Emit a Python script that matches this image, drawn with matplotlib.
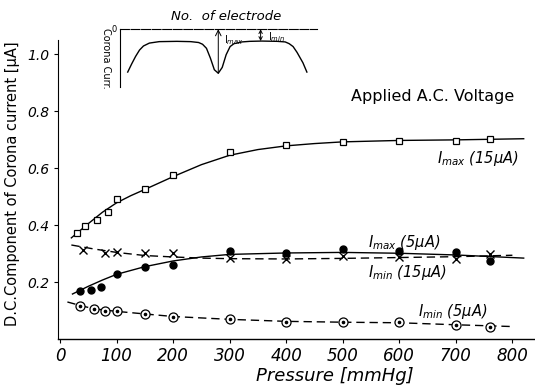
import numpy as np
import matplotlib
matplotlib.use("Agg")
import matplotlib.pyplot as plt

# measured points (pressure in mmHg, current in uA)
imax15_p = [30, 45, 65, 85, 100, 150, 200, 300, 400, 500, 600, 700, 760]
imax15 = [0.372, 0.396, 0.418, 0.446, 0.491, 0.526, 0.575, 0.656, 0.681, 0.691, 0.695, 0.695, 0.702]

imax5_p = [35, 55, 73, 100, 150, 200, 300, 400, 500, 600, 700, 760]
imax5 = [0.168, 0.172, 0.183, 0.228, 0.253, 0.260, 0.309, 0.302, 0.316, 0.309, 0.305, 0.274]

imin15_p = [40, 80, 100, 150, 200, 300, 400, 500, 600, 700, 760]
imin15 = [0.312, 0.302, 0.305, 0.302, 0.302, 0.284, 0.281, 0.291, 0.288, 0.281, 0.298]

imin5_p = [35, 60, 80, 100, 150, 200, 300, 400, 500, 600, 700, 760]
imin5 = [0.116, 0.105, 0.098, 0.098, 0.088, 0.077, 0.070, 0.060, 0.060, 0.060, 0.049, 0.042]

# hand drawn curves through the points
imax15_cx = [20, 50, 75, 100, 125, 150, 200, 250, 300, 350, 400, 450, 500, 600, 700, 820]
imax15_cy = [0.355, 0.405, 0.445, 0.478, 0.503, 0.525, 0.570, 0.612, 0.645, 0.665, 0.678, 0.686, 0.692, 0.697, 0.699, 0.703]

imax5_cx = [22, 50, 75, 100, 150, 200, 250, 300, 400, 500, 600, 700, 820]
imax5_cy = [0.158, 0.185, 0.207, 0.227, 0.254, 0.274, 0.288, 0.297, 0.302, 0.304, 0.301, 0.295, 0.284]

imin15_cx = [20, 60, 100, 150, 200, 250, 300, 400, 500, 600, 700, 800]
imin15_cy = [0.33, 0.316, 0.304, 0.293, 0.288, 0.284, 0.282, 0.281, 0.283, 0.286, 0.289, 0.294]

imin5_cx = [13, 35, 60, 100, 150, 200, 300, 400, 500, 600, 700, 796]
imin5_cy = [0.13, 0.118, 0.106, 0.097, 0.088, 0.079, 0.069, 0.062, 0.059, 0.057, 0.050, 0.044]

# sketch of corona current along the electrodes (inset)
inset_pos = [4, 6, 8, 10, 12, 15, 20, 29, 36, 40, 42, 44, 46, 48, 50, 52, 54, 56, 58, 62, 66, 72, 80,
             84, 86, 88, 90, 93, 95]
inset_cur = [-0.74, -0.60, -0.47, -0.36, -0.29, -0.24, -0.215, -0.21, -0.215, -0.23, -0.26, -0.33, -0.50,
             -0.70, -0.76, -0.66, -0.44, -0.30, -0.25, -0.22, -0.21, -0.205, -0.21, -0.22, -0.25,
             -0.30, -0.40, -0.58, -0.74]

xticks = [0, 100, 200, 300, 400, 500, 600, 700, 800]
yticks = [0.2, 0.4, 0.6, 0.8, 1.0]

fig = plt.figure(figsize=(5.35, 3.89), dpi=100)
ax = fig.add_axes([0.108, 0.1285, 0.892, 0.769])

dash = (0, (6, 3.5))
ax.plot(imax15_cx, imax15_cy, color="black", lw=1.0)
ax.plot(imax5_cx, imax5_cy, color="black", lw=1.0)
ax.plot(imin15_cx, imin15_cy, color="black", lw=1.0, linestyle=dash)
ax.plot(imin5_cx, imin5_cy, color="black", lw=1.0, linestyle=dash)

ax.plot(imax15_p, imax15, "s", ms=4.8, mfc="white", mec="black", mew=0.9)
ax.plot(imax5_p, imax5, "o", ms=5, color="black")
ax.plot(imin15_p, imin15, "x", ms=6, color="black", mew=1.0)
ax.plot(imin5_p, imin5, "o", ms=6.5, mfc="white", mec="black", mew=0.9)
ax.plot(imin5_p, imin5, "o", ms=1.6, color="black")

ax.set_xlim(-4, 840)
ax.set_ylim(0, 1.05)
ax.spines["top"].set_visible(False)
ax.spines["right"].set_visible(False)
ax.spines["left"].set_linewidth(0.8)
ax.spines["bottom"].set_linewidth(1.0)
ax.set_xticks(xticks)
ax.set_xticklabels([str(v) for v in xticks], fontstyle="italic", fontsize=12)
ax.set_yticks(yticks)
ax.set_yticklabels(["%.1f" % v for v in yticks], fontstyle="italic", fontsize=10)
ax.tick_params(axis="both", length=3, width=0.8, pad=3)

ax.set_xlabel("Pressure [mmHg]", fontsize=13, fontstyle="italic", labelpad=1)
ax.xaxis.set_label_coords(0.58, -0.095)
ax.set_ylabel("D.C.Component of Corona current [μA]", fontsize=10.5, labelpad=4)
ax.yaxis.set_label_coords(-0.08, 0.52)

ax.text(659, 0.85, "Applied A.C. Voltage", fontsize=11.5, ha="center", va="center")
ax.text(666, 0.635, "I$_{max}$ (15μA)", fontsize=10.5, fontstyle="italic", va="center")
ax.text(544, 0.34, "I$_{max}$ (5μA)", fontsize=10.5, fontstyle="italic", va="center")
ax.text(544, 0.232, "I$_{min}$ (15μA)", fontsize=10.5, fontstyle="italic", va="center")
ax.text(633, 0.095, "I$_{min}$ (5μA)", fontsize=10.5, fontstyle="italic", va="center")

# inset
ins = fig.add_axes([0.224, 0.776, 0.368, 0.149])
ins.plot(inset_pos, inset_cur, color="black", lw=1.0)
ins.set_xlim(0, 100)
ins.set_ylim(-1.0, 0)
ins.spines["right"].set_visible(False)
ins.spines["bottom"].set_visible(False)
ins.spines["top"].set_linewidth(0.8)
ins.spines["top"].set_linestyle((0, (8, 1.5)))
ins.spines["left"].set_linewidth(0.8)
ins.set_xticks([])
ins.set_yticks([])
ins.patch.set_alpha(0)
ins.annotate("", xy=(50, 0), xytext=(50, -0.76),
             arrowprops=dict(arrowstyle="->", lw=0.7, color="black", shrinkA=0, shrinkB=0))
ins.annotate("", xy=(71.5, 0), xytext=(71.5, -0.205),
             arrowprops=dict(arrowstyle="<->", lw=0.7, color="black", shrinkA=0, shrinkB=0,
                             mutation_scale=6))
ins.text(53, -0.18, "I$_{max}$", fontsize=7, va="center")
ins.text(75, -0.13, "I$_{min}$", fontsize=7, va="center")
ins.text(54, 0.1, "No.  of electrode", fontsize=9.5, fontstyle="italic", ha="center", va="bottom")
ins.text(-3, 0, "0", fontsize=6, ha="center", va="center")
ins.text(-7, -0.5, "Corona Curr.", fontsize=7, rotation=-90, ha="center", va="center")

fig.savefig("out.png", dpi=100)
